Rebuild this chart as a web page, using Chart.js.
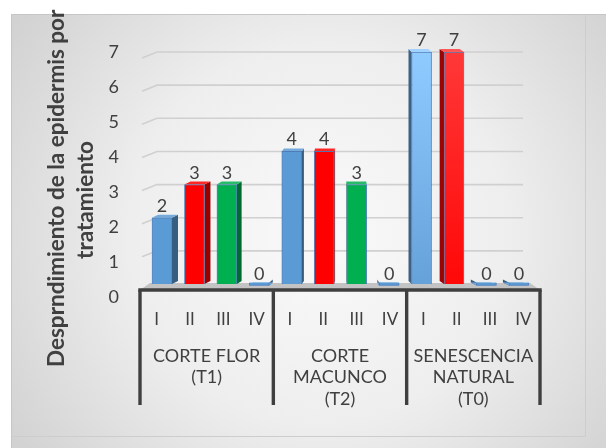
<!DOCTYPE html>
<html>
<head>
<meta charset="utf-8">
<script src="https://cdn.jsdelivr.net/npm/chart.js@4.4.1/dist/chart.umd.min.js"></script>
<style>
  html, body { margin: 0; padding: 0; background: #fff; }
  canvas { display: block; }
</style>
</head>
<body>
<canvas id="chart" width="606" height="448"></canvas>
<script>
// ---- data ----
const levelLabels = ['I', 'II', 'III', 'IV'];
const groupLabels = [
  ['CORTE FLOR', '(T1)'],
  ['CORTE', 'MACUNCO', '(T2)'],
  ['SENESCENCIA', 'NATURAL', '(T0)']
];
const corteFlorT1 = [2, 3, 3, 0];
const corteMacuncoT2 = [4, 4, 3, 0];
const senescenciaNaturalT0 = [7, 7, 0, 0];
const yTickValues = [0, 1, 2, 3, 4, 5, 6, 7];
const yTitleLines = ['Desprndimiento de la epidermis por', 'tratamiento'];

// ---- styles ----
const BLUE = ['#5B9BD5', '#5B9BD5'];
const RED = ['#FF0000', '#FF0000'];
const GREEN = ['#00B050', '#00B050'];
const barFills = [
  BLUE, RED, GREEN, BLUE,
  BLUE, RED, GREEN, BLUE,
  ['#8FCBFF', '#66A2DA'], ['#FF3838', '#FF0808'], BLUE, BLUE
];
const INK = '#404040';

const values = [...corteFlorT1, ...corteMacuncoT2, ...senescenciaNaturalT0];
const levelAxisLabels = groupLabels.flatMap(() => levelLabels);

function shade(hex, f) {
  const n = parseInt(hex.slice(1), 16);
  let c = [n >> 16, (n >> 8) & 255, n & 255];
  c = c.map(v => f <= 1 ? Math.round(v * f) : Math.round(v + (255 - v) * (f - 1)));
  return `rgb(${c[0]},${c[1]},${c[2]})`;
}

// grey panel behind the whole chart
const backdrop = {
  id: 'backdrop',
  beforeDraw(chart) {
    const c = chart.ctx, W = chart.width, H = chart.height;
    c.save();
    c.fillStyle = '#ffffff';
    c.fillRect(0, 0, W, H);
    const g = c.createRadialGradient(320, 235, 10, 320, 235, 370);
    g.addColorStop(0, '#f9f9f9');
    g.addColorStop(0.5, '#eeeeee');
    g.addColorStop(1, '#d2d2d2');
    c.fillStyle = g;
    c.fillRect(11, 14, W - 11, H - 14);
    c.lineWidth = 1;
    c.strokeStyle = '#c6c6c6';
    c.beginPath(); c.moveTo(11.5, H); c.lineTo(11.5, 14.5); c.lineTo(W, 14.5); c.stroke();
    c.strokeStyle = '#cdcdcd';
    c.beginPath(); c.moveTo(585.5, 14.5); c.lineTo(585.5, 436.5); c.lineTo(11.5, 436.5); c.stroke();
    c.restore();
  }
};

// back wall gridlines and floor
const backWall = {
  id: 'backWall',
  beforeDatasetsDraw(chart) {
    const c = chart.ctx, y = chart.scales.y, x = chart.scales.x;
    const L = x.left, R = x.right;
    c.save();
    c.strokeStyle = '#d0d0d0';
    c.lineWidth = 1.6;
    yTickValues.filter(v => v > 0).forEach(v => {
      const py = y.getPixelForValue(v);
      c.beginPath();
      c.moveTo(L + 2, py + 6);
      c.lineTo(L + 17, py);
      c.lineTo(R - 17, py);
      c.stroke();
    });
    const y0 = y.getPixelForValue(0);
    c.fillStyle = '#c3c3c3';
    c.beginPath();
    c.moveTo(L, y0 + 6); c.lineTo(L + 10, y0 - 1); c.lineTo(R - 10, y0 - 1); c.lineTo(R, y0 + 6);
    c.closePath();
    c.fill();
    c.restore();
  }
};

// side and top faces of the columns
const barDepth = {
  id: 'barDepth',
  beforeDatasetsDraw(chart) {
    const c = chart.ctx, meta = chart.getDatasetMeta(0);
    c.save();
    meta.data.forEach((bar, i) => {
      const { x, y, base, width } = bar.getProps(['x', 'y', 'base', 'width'], true);
      const s = Math.max(-6, Math.min(6, (345 - x) * 0.04));
      const d = 3;
      const xl = x - width / 2, xr = x + width / 2;
      const [top, bottom] = barFills[i];
      const edge = s >= 0 ? xr : xl;
      c.fillStyle = shade(bottom, 0.6);
      c.beginPath();
      c.moveTo(edge, y); c.lineTo(edge + s, y - d); c.lineTo(edge + s, base - d); c.lineTo(edge, base);
      c.closePath(); c.fill();
      c.fillStyle = shade(top, 1.15);
      c.beginPath();
      c.moveTo(xl, y); c.lineTo(xl + s, y - d); c.lineTo(xr + s, y - d); c.lineTo(xr, y);
      c.closePath(); c.fill();
    });
    c.restore();
  }
};

// value written above each column
const valueLabels = {
  id: 'valueLabels',
  afterDatasetsDraw(chart) {
    const c = chart.ctx, meta = chart.getDatasetMeta(0), data = chart.data.datasets[0].data;
    c.save();
    c.font = '18px Lato';
    c.fillStyle = INK;
    c.textAlign = 'center';
    c.textBaseline = 'alphabetic';
    meta.data.forEach((bar, i) => {
      const { x, y } = bar.getProps(['x', 'y'], true);
      c.fillText(String(data[i].y), x, y - 6);
    });
    c.restore();
  }
};

// front edge of the floor and the dividers between groups
const categoryFrame = {
  id: 'categoryFrame',
  afterDatasetsDraw(chart) {
    const c = chart.ctx, x = chart.scales.x, x2 = chart.scales.x2, y = chart.scales.y;
    const yLine = y.getPixelForValue(0) + 6;
    const n = groupLabels.length;
    const half = (x2.right - x2.left) / n / 2;
    c.save();
    c.strokeStyle = '#3f3f3f';
    c.lineWidth = 3.4;
    c.beginPath(); c.moveTo(x.left - 1.7, yLine); c.lineTo(x.right + 1.7, yLine); c.stroke();
    for (let k = 0; k <= n; k++) {
      const px = x2.getPixelForValue(k) - half;
      c.beginPath(); c.moveTo(px, yLine); c.lineTo(px, x2.top + 68); c.stroke();
    }
    c.restore();
  }
};

// rotated value-axis title
const axisTitle = {
  id: 'axisTitle',
  afterDraw(chart) {
    const c = chart.ctx, ca = chart.chartArea;
    c.save();
    c.beginPath(); c.rect(0, 8, chart.width, chart.height); c.clip();
    c.font = 'bold 22.5px Lato';
    c.fillStyle = INK;
    c.textBaseline = 'middle';
    c.save();
    c.translate(ca.left - 83, 367);
    c.rotate(-Math.PI / 2);
    c.textAlign = 'left';
    c.fillText(yTitleLines[0], 0, 0);
    c.restore();
    c.translate(ca.left - 54, 200);
    c.rotate(-Math.PI / 2);
    c.textAlign = 'center';
    c.fillText(yTitleLines[1], 0, 0);
    c.restore();
  }
};

function draw() {
  new Chart(document.getElementById('chart'), {
    type: 'bar',
    data: {
      datasets: [{
        data: values.map((v, i) => ({ x: i, y: v })),
        xAxisID: 'xb',
        yAxisID: 'y',
        backgroundColor(ctx) {
          const pair = barFills[ctx.dataIndex] || BLUE;
          if (pair[0] === pair[1]) return pair[0];
          const ca = ctx.chart.chartArea;
          if (!ca) return pair[1];
          const g = ctx.chart.ctx.createLinearGradient(0, ca.top, 0, ctx.chart.scales.y.getPixelForValue(0));
          g.addColorStop(0, pair[0]);
          g.addColorStop(1, pair[1]);
          return g;
        },
        borderColor: 'rgba(65,113,180,0.85)',
        borderWidth: 1,
        barThickness: 20,
        minBarLength: 3
      }]
    },
    options: {
      responsive: false,
      animation: false,
      events: [],
      layout: { padding: { left: 100, right: 66, top: 52, bottom: 0 } },
      plugins: { legend: { display: false }, tooltip: { enabled: false } },
      scales: {
        xb: { type: 'linear', display: false, offset: false, min: -0.678, max: 11.65 },
        y: { type: 'linear', display: false, min: -0.392, max: 7 },
        yl: {
          type: 'linear', position: 'left', min: 0, max: 7,
          afterBuildTicks(s) { s.ticks = yTickValues.map(v => ({ value: v })); },
          grid: { display: false, drawTicks: false },
          border: { display: false },
          ticks: { padding: 21, color: INK, font: { family: 'Lato', size: 18 } },
          afterFit(s) { s.width = 40; }
        },
        x: {
          type: 'category', position: 'bottom', weight: 1, labels: levelAxisLabels, offset: true,
          grid: { display: false, drawTicks: false },
          border: { display: false },
          ticks: { autoSkip: false, maxRotation: 0, padding: 12, color: INK, font: { family: 'Lato', size: 17 } },
          afterFit(s) { s.height = 40; }
        },
        x2: {
          type: 'category', position: 'bottom', weight: 2, labels: groupLabels, offset: true,
          grid: { display: false, drawTicks: false },
          border: { display: false },
          ticks: { autoSkip: false, maxRotation: 0, padding: 8, color: INK, font: { family: 'Lato', size: 18, lineHeight: 1.2 } },
          afterFit(s) { s.height = 111; }
        }
      }
    },
    plugins: [backdrop, backWall, barDepth, valueLabels, categoryFrame, axisTitle]
  });
}

Promise.all([
  document.fonts.load('17px Lato'),
  document.fonts.load('bold 22px Lato')
]).then(draw, draw);
</script>
</body>
</html>
